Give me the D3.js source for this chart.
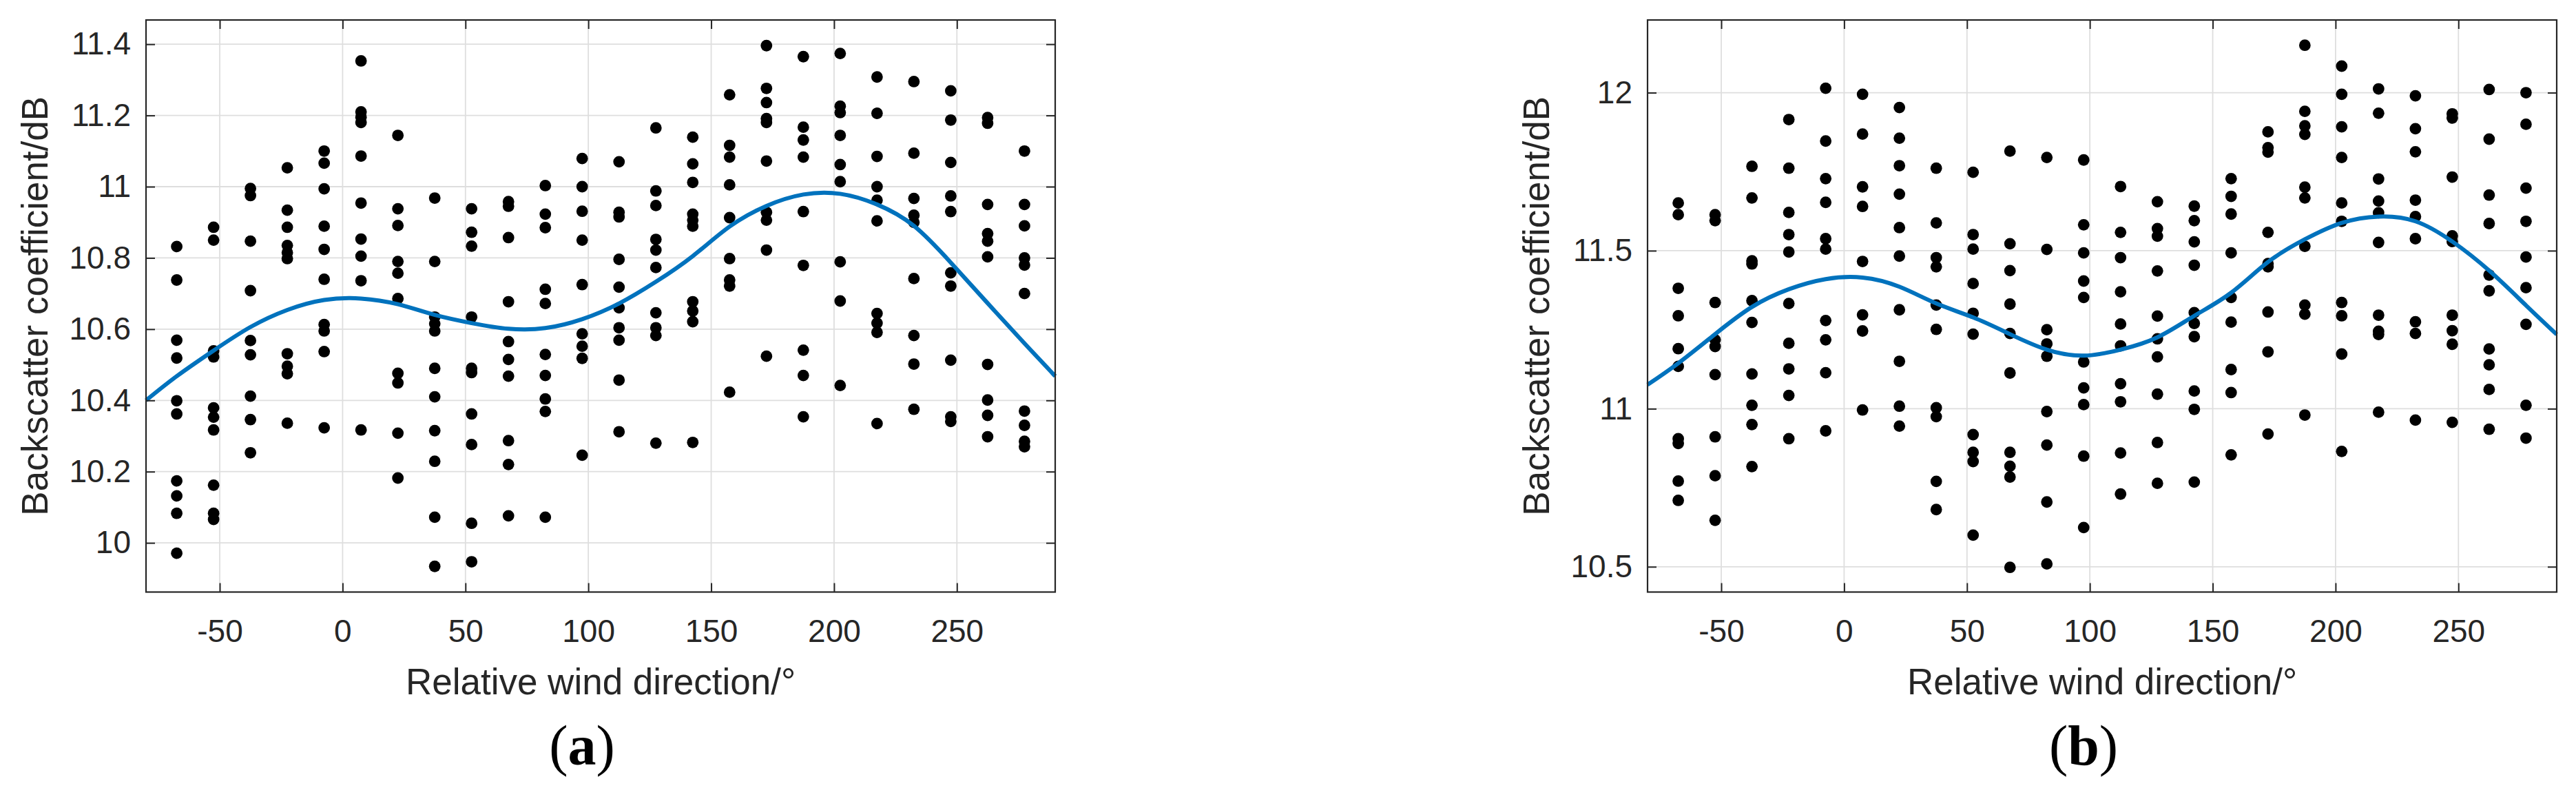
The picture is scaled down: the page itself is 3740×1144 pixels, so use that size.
<!DOCTYPE html>
<html><head><meta charset="utf-8">
<script src="https://cdn.jsdelivr.net/npm/d3@7/dist/d3.min.js"></script>
<style>body{margin:0;background:#fff}svg{display:block}</style>
</head><body>
<svg id="chart" width="3740" height="1144"></svg>
<script>
// ---------- data ----------
const angles = [-67.5,-52.5,-37.5,-22.5,-7.5,7.5,22.5,37.5,52.5,67.5,82.5,97.5,112.5,127.5,142.5,157.5,172.5,187.5,202.5,217.5,232.5,247.5,262.5,277.5];

const backscatterA = [
  [10.832,10.738,10.569,10.519,10.399,10.362,10.174,10.132,10.083,9.971],
  [10.886,10.850,10.539,10.522,10.379,10.353,10.317,10.162,10.083,10.066],
  [10.995,10.975,10.847,10.708,10.568,10.528,10.412,10.346,10.253],
  [11.053,10.934,10.886,10.835,10.815,10.798,10.531,10.496,10.475,10.336],
  [11.100,11.066,10.994,10.889,10.824,10.740,10.613,10.595,10.537,10.323],
  [11.353,11.210,11.195,11.180,11.086,10.954,10.853,10.805,10.736,10.317],
  [11.144,10.938,10.891,10.790,10.757,10.686,10.476,10.449,10.308,10.182],
  [10.968,10.790,10.634,10.615,10.595,10.490,10.410,10.315,10.229,10.072,9.934],
  [10.938,10.872,10.833,10.634,10.490,10.478,10.362,10.276,10.055,9.947],
  [10.958,10.945,10.857,10.677,10.565,10.515,10.468,10.287,10.220,10.076],
  [11.003,10.923,10.885,10.712,10.672,10.529,10.470,10.404,10.369,10.072],
  [11.079,11.000,10.931,10.850,10.725,10.587,10.552,10.518,10.246],
  [11.070,10.928,10.915,10.796,10.718,10.660,10.604,10.569,10.457,10.312],
  [11.165,10.988,10.947,10.852,10.822,10.773,10.646,10.604,10.582,10.280],
  [11.139,11.064,11.012,10.923,10.906,10.889,10.677,10.651,10.621,10.282],
  [11.258,11.116,11.083,11.005,10.913,10.798,10.738,10.721,10.423],
  [11.396,11.276,11.236,11.191,11.180,11.072,10.928,10.906,10.822,10.524],
  [11.365,11.167,11.131,11.083,10.930,10.779,10.541,10.470,10.354],
  [11.374,11.226,11.208,11.144,11.062,11.014,10.789,10.679,10.442],
  [11.308,11.206,11.085,11.000,10.962,10.904,10.644,10.617,10.591,10.335],
  [11.295,11.094,10.967,10.920,10.900,10.742,10.582,10.502,10.375],
  [11.269,11.187,11.068,10.974,10.930,10.758,10.721,10.513,10.354,10.341],
  [11.194,11.178,10.950,10.868,10.847,10.803,10.501,10.401,10.358,10.298],
  [11.100,10.950,10.890,10.800,10.780,10.700,10.370,10.330,10.285,10.270]
];

const backscatterB = [
  [11.651,11.614,11.381,11.294,11.190,11.134,10.905,10.890,10.771,10.710],
  [11.614,11.595,11.336,11.218,11.197,11.108,10.911,10.788,10.647],
  [11.767,11.667,11.468,11.458,11.342,11.273,11.110,11.011,10.950,10.817],
  [11.915,11.761,11.621,11.551,11.496,11.333,11.207,11.126,11.042,10.905],
  [12.014,11.847,11.728,11.653,11.538,11.505,11.279,11.218,11.114,10.930],
  [11.995,11.869,11.702,11.640,11.466,11.297,11.246,10.996],
  [11.953,11.856,11.769,11.679,11.573,11.483,11.313,11.150,11.008,10.945],
  [11.761,11.588,11.478,11.449,11.328,11.251,11.003,10.975,10.770,10.681],
  [11.748,11.551,11.505,11.396,11.302,11.236,10.918,10.862,10.833,10.600],
  [11.815,11.522,11.437,11.331,11.238,11.113,10.862,10.818,10.784,10.498],
  [11.795,11.504,11.250,11.205,11.166,10.991,10.885,10.705,10.509],
  [11.787,11.582,11.493,11.404,11.352,11.148,11.066,11.013,10.850,10.624],
  [11.703,11.558,11.478,11.370,11.268,11.199,11.079,11.022,10.860,10.730],
  [11.655,11.570,11.546,11.436,11.293,11.221,11.164,11.046,10.893,10.764],
  [11.641,11.595,11.528,11.454,11.304,11.270,11.228,11.056,10.998,10.768],
  [11.728,11.672,11.616,11.493,11.352,11.274,11.124,11.051,10.854],
  [11.876,11.826,11.812,11.558,11.459,11.449,11.306,11.180,10.920],
  [12.150,11.941,11.895,11.868,11.701,11.667,11.514,11.328,11.299,10.980],
  [12.084,11.995,11.892,11.795,11.651,11.593,11.336,11.294,11.173,10.865],
  [12.012,11.935,11.727,11.657,11.620,11.526,11.296,11.245,11.235,10.989],
  [11.990,11.886,11.813,11.660,11.608,11.538,11.275,11.238,10.964],
  [11.933,11.920,11.733,11.547,11.529,11.296,11.247,11.204,10.957],
  [12.010,11.853,11.676,11.586,11.423,11.373,11.189,11.139,11.061,10.935],
  [12.000,11.900,11.698,11.593,11.480,11.383,11.267,11.011,10.907]
];

const fitAngles = [-80,-67.5,-52.5,-37.5,-22.5,-7.5,7.5,22.5,37.5,52.5,67.5,82.5,97.5,112.5,127.5,142.5,157.5,172.5,187.5,202.5,217.5,232.5,247.5,262.5,277.5,290];
const fitA = [10.400,10.468,10.540,10.606,10.654,10.682,10.686,10.670,10.640,10.617,10.601,10.603,10.628,10.672,10.733,10.805,10.888,10.946,10.978,10.980,10.950,10.890,10.787,10.673,10.560,10.468];
const fitB = [11.076,11.144,11.236,11.322,11.378,11.410,11.415,11.386,11.333,11.289,11.236,11.187,11.168,11.187,11.226,11.294,11.367,11.464,11.536,11.588,11.608,11.593,11.529,11.437,11.327,11.235];

const xTicks = [-50,0,50,100,150,200,250];
const xTickLabels = ["-50","0","50","100","150","200","250"];
const yTicksA = [10,10.2,10.4,10.6,10.8,11,11.2,11.4];
const yTickLabelsA = ["10","10.2","10.4","10.6","10.8","11","11.2","11.4"];
const yTicksB = [10.5,11,11.5,12];
const yTickLabelsB = ["10.5","11","11.5","12"];
const xTitle = "Relative wind direction/°";
const yTitle = "Backscatter coefficient/dB";
const captionLetters = ["a","b"];

// ---------- drawing ----------
const svg = d3.select("#chart");
svg.append("rect").attr("width",3740).attr("height",1144).attr("fill","#fff");

const FONT = "'Liberation Sans', Arial, Helvetica, sans-serif";
const TXT = "#262626";
const plotTop = 29, plotBottom = 859.5, plotWidth = 1320;

function panel(cfg){
  const x = d3.scaleLinear().domain([-80,290]).range([cfg.left, cfg.left+plotWidth]);
  const y = d3.scaleLinear().domain(cfg.yDomain).range([plotBottom, plotTop]);
  const g = svg.append("g");

  // grid
  g.append("g").selectAll("line").data(xTicks).join("line")
    .attr("x1",d=>x(d)).attr("x2",d=>x(d)).attr("y1",plotTop).attr("y2",plotBottom)
    .attr("stroke","#dedede").attr("stroke-width",1.8);
  g.append("g").selectAll("line").data(cfg.yTicks).join("line")
    .attr("x1",cfg.left).attr("x2",cfg.left+plotWidth).attr("y1",d=>y(d)).attr("y2",d=>y(d))
    .attr("stroke","#dedede").attr("stroke-width",1.8);

  // points
  const pts = [];
  angles.forEach((a,i)=>cfg.values[i].forEach(v=>pts.push([a,v])));
  g.append("g").selectAll("circle").data(pts).join("circle")
    .attr("cx",d=>x(d[0])).attr("cy",d=>y(d[1])).attr("r",8.4).attr("fill","#000");

  // fitted curve
  const line = d3.line().x((d,i)=>x(fitAngles[i])).y(d=>y(d)).curve(d3.curveNatural);
  g.append("path").datum(cfg.fit).attr("d",line)
    .attr("fill","none").attr("stroke","#0072BD").attr("stroke-width",6).attr("stroke-linejoin","round");

  // axes
  const styleAxis = sel => {
    sel.select(".domain").remove();
    sel.selectAll(".tick line").attr("stroke",TXT).attr("stroke-width",2);
    sel.selectAll(".tick text").attr("fill",TXT).style("font-family",FONT).style("font-size","46px");
  };
  g.append("g").attr("transform",`translate(0,${plotBottom})`)
    .call(d3.axisBottom(x).tickValues(xTicks).tickFormat((d,i)=>xTickLabels[i]).tickSizeInner(-13).tickSizeOuter(0).tickPadding(40))
    .call(styleAxis);
  g.append("g").attr("transform",`translate(0,${plotTop})`)
    .call(d3.axisTop(x).tickValues(xTicks).tickFormat("").tickSizeInner(-13).tickSizeOuter(0))
    .call(styleAxis);
  g.append("g").attr("transform",`translate(${cfg.left},0)`)
    .call(d3.axisLeft(y).tickValues(cfg.yTicks).tickFormat((d,i)=>cfg.yLabels[i]).tickSizeInner(-13).tickSizeOuter(0).tickPadding(22))
    .call(styleAxis);
  g.append("g").attr("transform",`translate(${cfg.left+plotWidth},0)`)
    .call(d3.axisRight(y).tickValues(cfg.yTicks).tickFormat("").tickSizeInner(-13).tickSizeOuter(0))
    .call(styleAxis);

  // box
  g.append("rect").attr("x",cfg.left).attr("y",plotTop).attr("width",plotWidth).attr("height",plotBottom-plotTop)
    .attr("fill","none").attr("stroke",TXT).attr("stroke-width",2.2);

  // titles
  g.append("text").attr("x",cfg.left+plotWidth/2).attr("y",1008).attr("text-anchor","middle")
    .attr("fill",TXT).style("font-family",FONT).style("font-size","53px").text(xTitle);
  g.append("text").attr("transform",`translate(${cfg.left-143},${(plotTop+plotBottom)/2}) rotate(-90)`)
    .attr("text-anchor","middle").attr("fill",TXT).style("font-family",FONT).style("font-size","53px").text(yTitle);

  // caption
  const cap = g.append("text").attr("x",cfg.capX).attr("y",1110).attr("text-anchor","middle")
    .style("font-family","'Liberation Serif','Times New Roman',serif").style("font-size","82px").attr("fill","#000");
  cap.append("tspan").text("(");
  cap.append("tspan").style("font-weight","bold").text(cfg.letter);
  cap.append("tspan").text(")");
}

panel({left:212, yDomain:[9.862,11.468], yTicks:yTicksA, yLabels:yTickLabelsA, values:backscatterA, fit:fitA, letter:captionLetters[0], capX:845});
panel({left:2392, yDomain:[10.42,12.23], yTicks:yTicksB, yLabels:yTickLabelsB, values:backscatterB, fit:fitB, letter:captionLetters[1], capX:3025});
</script>
</body></html>
